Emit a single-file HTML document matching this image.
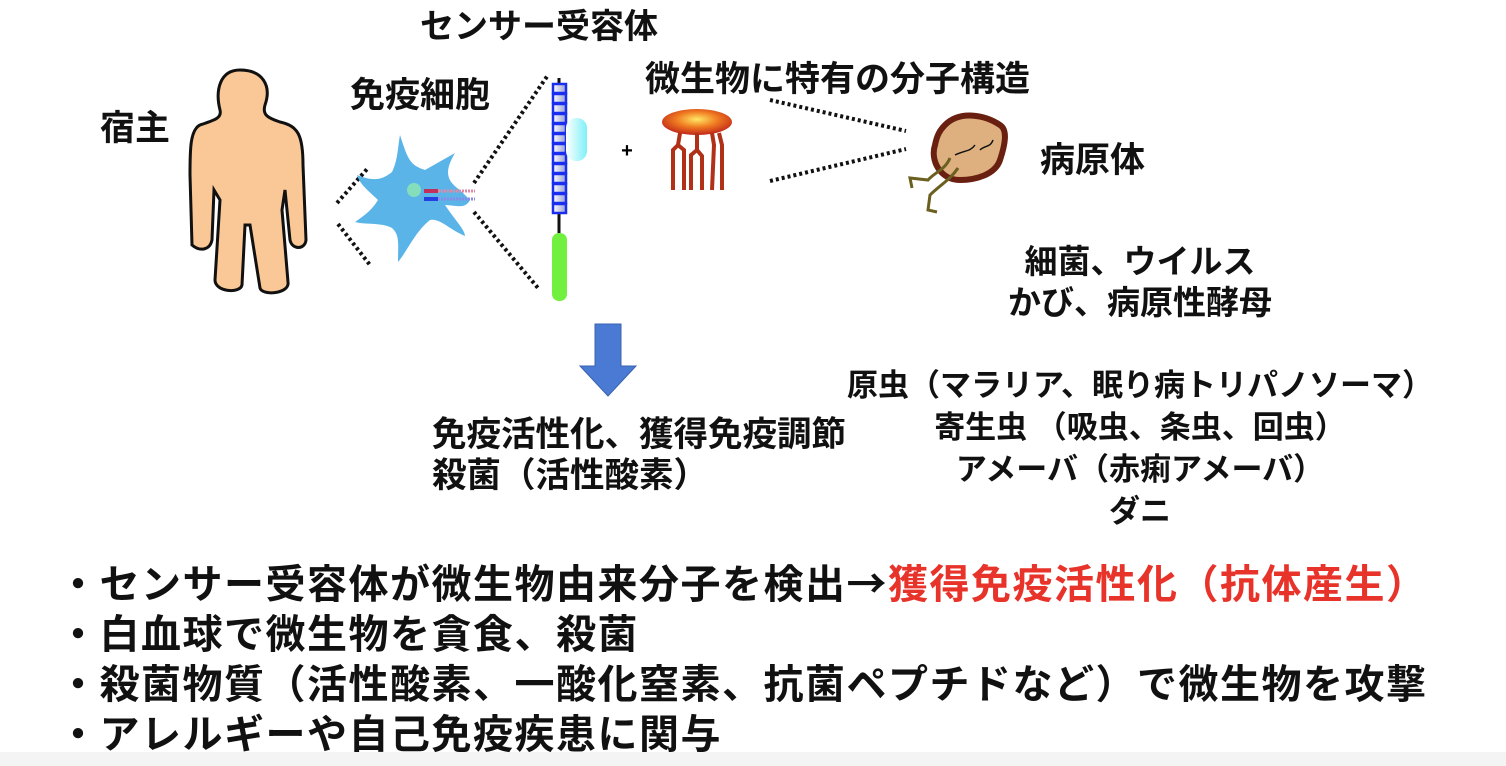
<!DOCTYPE html>
<html><head><meta charset="utf-8"><style>
body{margin:0;width:1506px;height:766px;background:#fff;overflow:hidden;position:relative;font-family:"Liberation Sans","Noto Sans CJK JP",sans-serif;font-weight:bold;color:#111}
.t{position:absolute;white-space:nowrap;line-height:1}
.j{font-family:"Noto Sans CJK JP",sans-serif}
</style></head><body>
<svg width="1506" height="766" style="position:absolute;left:0;top:0">
<defs>
<radialGradient id="fl" cx="50%" cy="40%" r="60%"><stop offset="0" stop-color="#ffe866"/><stop offset="0.5" stop-color="#f07a20"/><stop offset="1" stop-color="#c0261a"/></radialGradient>
<linearGradient id="cy" x1="0" x2="1"><stop offset="0" stop-color="#fff"/><stop offset="1" stop-color="#7ef0f8"/></linearGradient>
<linearGradient id="bx" x1="0" x2="1"><stop offset="0" stop-color="#fff"/><stop offset="1" stop-color="#9aa0d0"/></linearGradient>
</defs>
<path d="M240 70 C220 70 215 90 220 110 C222 118 215 120 200 125 C190 130 190 150 190 175 L192 245 C200 252 210 250 212 240 L214 190 L220 200 L215 280 C215 292 240 294 242 285 L245 225 L250 225 L260 288 C262 296 290 294 288 282 L282 210 L285 190 L290 240 C292 250 305 250 306 240 L303 165 C303 135 298 126 280 122 C268 118 262 115 265 105 C272 85 262 70 240 70 Z" fill="#f9c896" stroke="#111" stroke-width="3"/>
<g stroke="#111" stroke-width="4" stroke-dasharray="3 3" fill="none">
<line x1="337" y1="203" x2="368" y2="168"/><line x1="338" y1="224" x2="370" y2="265"/>
<line x1="474" y1="183" x2="548" y2="75"/><line x1="474" y1="212" x2="538" y2="288"/>
<line x1="770" y1="100" x2="906" y2="131"/><line x1="770" y1="181" x2="906" y2="149"/>
</g>
<path d="M400 135 C408 160 410 165 425 170 L455 153 C445 170 445 180 460 190 L470 200 C465 210 455 205 445 205 C455 220 465 230 465 236 C450 230 440 218 430 220 C415 232 408 250 398 262 C398 245 400 235 392 228 C380 222 365 225 355 222 C365 215 372 210 378 200 C370 192 360 185 357 175 C370 180 380 182 392 172 C398 160 398 145 400 135 Z" fill="#5ab4e8"/>
<circle cx="414" cy="190" r="7" fill="#8fe8b0" opacity="0.8"/>
<rect x="424" y="189" width="14" height="4" fill="#c0305a"/><rect x="424" y="197" width="14" height="4" fill="#2040e0"/>
<line x1="438" y1="191" x2="475" y2="191" stroke="#e08aa8" stroke-width="3" stroke-dasharray="2 1"/>
<line x1="438" y1="199" x2="475" y2="199" stroke="#8a8ae8" stroke-width="3" stroke-dasharray="2 1"/>
<line x1="559" y1="78" x2="559" y2="240" stroke="#111" stroke-width="3"/>
<g fill="url(#bx)" stroke="#1a2ef0" stroke-width="2.5">
<rect x="553" y="84" width="13" height="9"/><rect x="553" y="94" width="13" height="9"/><rect x="553" y="104" width="13" height="9"/><rect x="553" y="114" width="13" height="9"/><rect x="553" y="124" width="13" height="9"/><rect x="553" y="134" width="13" height="9"/><rect x="553" y="144" width="13" height="9"/><rect x="553" y="154" width="13" height="9"/><rect x="553" y="164" width="13" height="9"/><rect x="553" y="174" width="13" height="9"/><rect x="553" y="184" width="13" height="9"/><rect x="553" y="194" width="13" height="9"/><rect x="553" y="204" width="13" height="9"/>
</g>
<rect x="566" y="118" width="21" height="43" rx="10" fill="url(#cy)"/>
<rect x="552" y="233" width="15" height="68" rx="7" fill="#72f040"/>
<text x="627" y="157" font-size="20" font-weight="bold" text-anchor="middle" font-family="Liberation Sans">+</text>
<ellipse cx="697" cy="122" rx="35" ry="13" fill="url(#fl)"/>
<g stroke="#b03018" stroke-width="4" fill="none">
<path d="M680 133 L678 145 L673 150 L673 190"/><path d="M678 145 L684 150 L684 190"/>
<path d="M697 133 L697 150 L691 155 L691 190"/><path d="M697 150 L702 156 L702 190"/>
<path d="M712 133 L714 145 L712 190"/><path d="M719 133 L722 145 L722 190"/>
</g>
<path d="M945 125 C960 110 985 115 1000 125 C1008 130 1005 145 1000 160 C995 175 975 180 960 180 C940 180 930 160 935 145 C937 135 940 130 945 125 Z" fill="#deb080" stroke="#6a2010" stroke-width="6"/>
<path d="M955 155 C965 150 970 152 975 145 M980 150 C985 145 990 148 993 140" stroke="#111" stroke-width="1.5" fill="none"/>
<path d="M950 158 C945 170 935 172 928 180 L910 178 L912 188" stroke="#6b6020" stroke-width="3" fill="none"/>
<path d="M958 168 C950 180 940 185 930 195 L928 210 L937 212" stroke="#6b6020" stroke-width="3" fill="none"/>
<path d="M595 324 L621 324 L621 366 L636 366 L608 396 L580 366 L595 366 Z" fill="#4a7ad4" stroke="#3a62b0" stroke-width="1"/>
<rect x="0" y="752" width="1506" height="14" fill="#f4f4f4"/>
</svg>
<div class="t" style="left:420px;top:10px;font-size:34px">センサー受容体</div>
<div class="t" style="left:100px;top:111px;font-size:35px">宿主</div>
<div class="t" style="left:350px;top:78px;font-size:35px">免疫細胞</div>
<div class="t" style="left:645px;top:62px;font-size:35px">微生物に特有の分子構造</div>
<div class="t" style="left:1040px;top:143px;font-size:35px">病原体</div>
<div class="t" style="left:1140px;top:241px;font-size:33px;transform:translateX(-50%);text-align:center;line-height:41px">細菌、ウイルス<br>かび、病原性酵母</div>
<div class="t" style="left:432px;top:415px;font-size:34.5px;line-height:41px">免疫活性化、獲得免疫調節<br>殺菌（活性酸素）</div>
<div class="t" style="left:1140px;top:365px;font-size:31px;transform:translateX(-50%);text-align:center;line-height:42px">原虫（マラリア、眠り病トリパノソーマ）<br>寄生虫 （吸虫、条虫、回虫）<br>アメーバ（赤痢アメーバ）<br>ダニ</div>
<div class="t j" style="left:58px;top:556px;font-size:40px;line-height:50px;letter-spacing:1.5px">・センサー受容体が微生物由来分子を検出→<span style="color:#e8332a">獲得免疫活性化（抗体産生）</span><br>・白血球で微生物を貪食、殺菌<br>・殺菌物質（活性酸素、一酸化窒素、抗菌ペプチドなど）で微生物を攻撃<br>・アレルギーや自己免疫疾患に関与</div>
</body></html>
